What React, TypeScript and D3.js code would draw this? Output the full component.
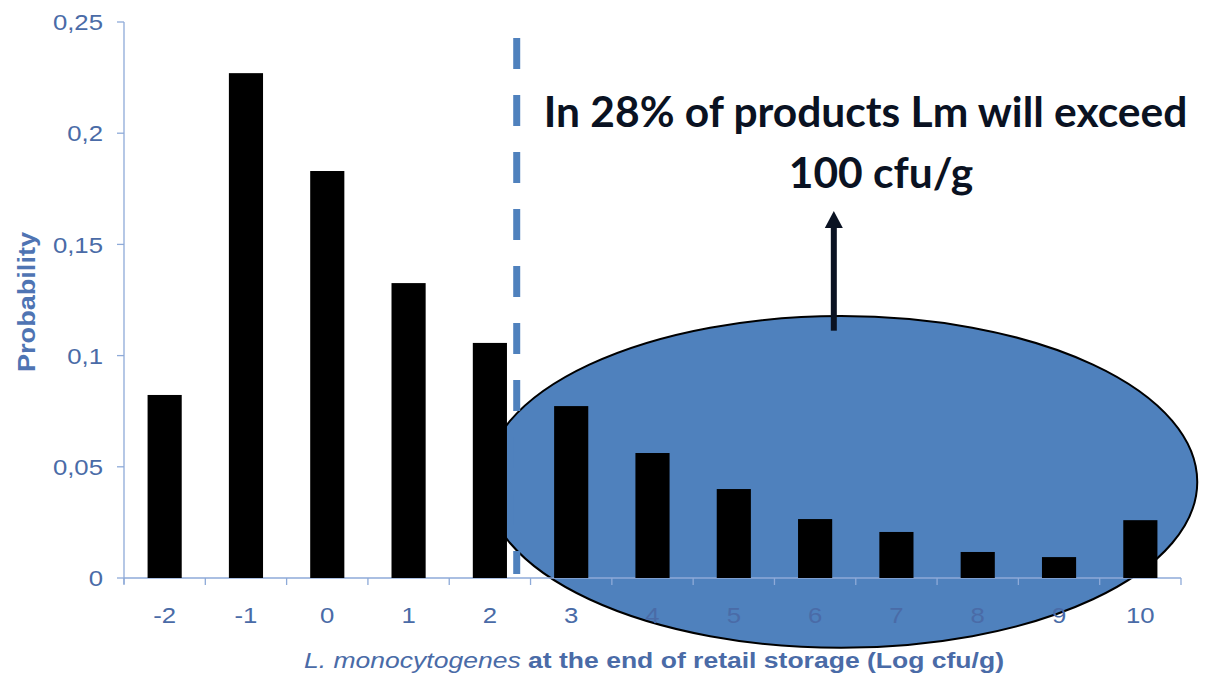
import React from "react";
import * as d3 from "d3";

const categories = ["-2", "-1", "0", "1", "2", "3", "4", "5", "6", "7", "8", "9", "10"];
const probabilities = [0.0823, 0.227, 0.183, 0.1326, 0.1057, 0.0773, 0.0562, 0.040, 0.0265, 0.0207, 0.0117, 0.0094, 0.026];
const yTicks = [0, 0.05, 0.1, 0.15, 0.2, 0.25];
const yTickLabels = ["0", "0,05", "0,1", "0,15", "0,2", "0,25"];
const thresholdLog = 2.33;
const annotationLines = ["In 28% of products Lm will exceed", "100 cfu/g"];
const yTitle = "Probability";
const xTitleItalic = "L. monocytogenes";
const xTitleBold = " at the end of retail storage (Log cfu/g)";

const W = 1218;
const H = 674;
const TEXT = "#4a6ba7";
const AXIS = "#8eaad8";
const SX = 1.12; // horizontal stretch of the original slide text

export default function App() {
  const x = d3.scaleBand<string>().domain(categories).range([124, 1181]).paddingInner(0.58).paddingOuter(0.29);
  const y = d3.scaleLinear().domain([0, 0.25]).range([578, 22]);
  const step = x.step();
  const bw = x.bandwidth();
  const xv = d3.scaleLinear().domain([-2, 10]).range([(x("-2") as number) + bw / 2, (x("10") as number) + bw / 2]);
  const tickXs = d3.range(categories.length + 1).map((i) => 124 + i * step);

  const ecx = xv(6.32);
  const ecy = y(0.0432);
  const erx = xv(6.32 + 4.38) - ecx;
  const ery = y(0) - y(0.0746);

  const ax = xv(6.23);
  const aBottom = y(0.1112);
  const aTip = y(0.165);

  return (
    <svg width={W} height={H} style={{ position: "absolute", left: 0, top: 0, background: "#fff" }} fontFamily="'Liberation Sans', Arial, sans-serif">
      <ellipse cx={ecx} cy={ecy} rx={erx} ry={ery} fill="#4f81bd" stroke="#000" strokeWidth={2} />

      {/* y axis */}
      <line x1={124} x2={124} y1={y(0.25)} y2={y(0) + 6} stroke={AXIS} strokeWidth={1.3} />
      {yTicks.map((t, i) => (
        <g key={t}>
          <line x1={117} x2={124} y1={y(t)} y2={y(t)} stroke={AXIS} strokeWidth={1.3} />
          <text transform={`translate(103,${y(t)}) scale(${SX},1)`} dy="0.36em" textAnchor="end" fontSize={23} fill={TEXT}>{yTickLabels[i]}</text>
        </g>
      ))}
      <text transform={`translate(35,${y(0.125) + 2}) rotate(-90)`} textAnchor="middle" fontSize={23} fontWeight="bold" fill="#4f74b3" textLength={140} lengthAdjust="spacingAndGlyphs">{yTitle}</text>

      {/* x axis */}
      <line x1={124} x2={1181} y1={y(0)} y2={y(0)} stroke={AXIS} strokeWidth={1.3} />
      {tickXs.map((tx, i) => (
        <line key={i} x1={tx} x2={tx} y1={y(0)} y2={y(0) + 7} stroke={AXIS} strokeWidth={1.3} />
      ))}
      {categories.map((c) => (
        <text key={c} transform={`translate(${(x(c) as number) + bw / 2},623) scale(${SX},1)`} textAnchor="middle" fontSize={23} fill={TEXT}>{c}</text>
      ))}
      <text x={304} y={668} fontSize={22} fill={TEXT} textLength={700} lengthAdjust="spacingAndGlyphs">
        <tspan fontStyle="italic">{xTitleItalic}</tspan>
        <tspan fontWeight="bold">{xTitleBold}</tspan>
      </text>

      {/* bars */}
      {categories.map((c, i) => (
        <rect key={c} x={x(c)} y={y(probabilities[i])} width={bw} height={y(0) - y(probabilities[i])} fill="#000" />
      ))}

      {/* threshold dashed line */}
      <line x1={xv(thresholdLog)} x2={xv(thresholdLog)} y1={38} y2={574} stroke="#4f81bd" strokeWidth={7} strokeDasharray="31 26" />

      {/* arrow */}
      <line x1={ax} x2={ax} y1={aBottom} y2={aTip + 14} stroke="#0a1222" strokeWidth={6} />
      <path d={`M${ax},${aTip} L${ax - 9},${aTip + 17} L${ax + 9},${aTip + 17} Z`} fill="#0a1222" />

      {/* annotation text */}
      <text x={xv(6.62)} y={y(0.2027)} textAnchor="middle" fontSize={42.5} fontWeight="bold" fill="#0a1222" fontFamily="Lato, 'Open Sans', sans-serif">{annotationLines[0]}</text>
      <text x={xv(6.81)} y={y(0.1753)} textAnchor="middle" fontSize={42.5} fontWeight="bold" fill="#0a1222" fontFamily="Lato, 'Open Sans', sans-serif">{annotationLines[1]}</text>
    </svg>
  );
}
